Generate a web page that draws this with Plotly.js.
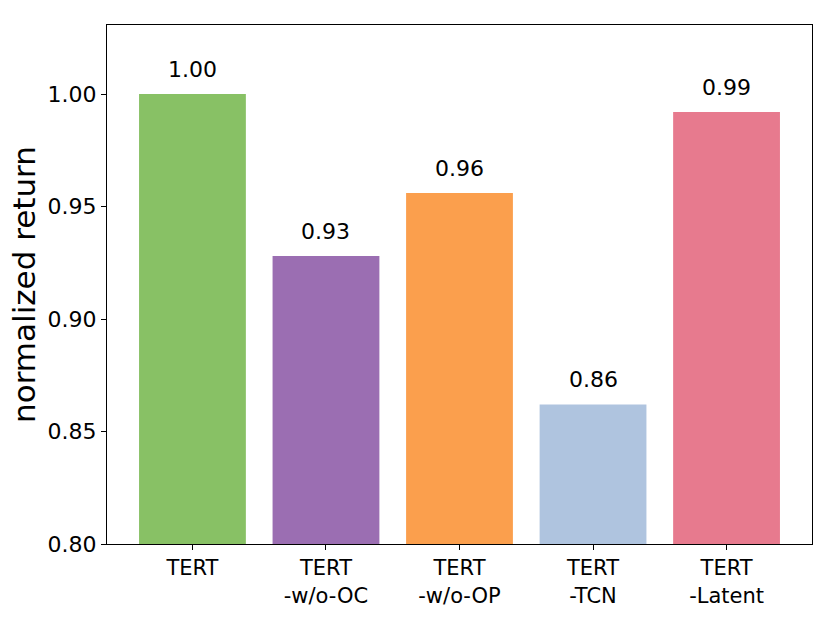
<!DOCTYPE html>
<html>
<head>
<meta charset="utf-8">
<script src="https://cdn.plot.ly/plotly-3.0.1.min.js"></script>
<style>html,body{margin:0;padding:0;background:#fff;}#chart{width:830px;height:623px;}</style>
</head>
<body>
<div id="chart"></div>
<script>
const categories = ["TERT", "TERT<br>-w/o-OC", "TERT<br>-w/o-OP", "TERT<br>-TCN", "TERT<br>-Latent"];
const values = [1.000, 0.928, 0.956, 0.862, 0.992];
const colors = ["#88c165", "#9b6eb2", "#fb9f4d", "#afc4df", "#e77a8e"];
const yTicks = [0.80, 0.85, 0.90, 0.95, 1.00];

const xs = categories.map((c, i) => i);

const trace = {
  type: "bar",
  x: xs,
  y: values.map(v => v - 0.8),
  base: 0.8,
  width: 0.8,
  marker: { color: colors, line: { width: 0 } },
  hoverinfo: "skip"
};

const annotations = values.map((v, i) => ({
  x: i, y: v, xref: "x", yref: "y",
  text: v.toFixed(2),
  showarrow: false,
  yanchor: "middle",
  yshift: 25,
  font: { family: "DejaVu Sans", size: 22, color: "#000" }
}));

const layout = {
  width: 830, height: 623,
  margin: { l: 107, r: 18, t: 25, b: 79 },
  paper_bgcolor: "#fff",
  plot_bgcolor: "#fff",
  showlegend: false,
  font: { family: "DejaVu Sans", size: 22, color: "#000" },
  xaxis: {
    range: [-0.64, 4.64],
    tickvals: xs,
    ticktext: categories,
    ticks: "outside", ticklen: 5, tickwidth: 1, tickcolor: "#000",
    showline: true, linecolor: "#000", linewidth: 1, mirror: true,
    showgrid: false, zeroline: false,
    tickfont: { family: "DejaVu Sans", size: 21, color: "#000" }
  },
  yaxis: {
    range: [0.8, 1.0307],
    tickvals: yTicks,
    ticktext: yTicks.map(t => t.toFixed(2)),
    ticks: "outside", ticklen: 5, tickwidth: 1, tickcolor: "#000",
    showline: true, linecolor: "#000", linewidth: 1, mirror: true,
    showgrid: false, zeroline: false,
    tickfont: { family: "DejaVu Sans", size: 22, color: "#000" },
    title: { text: "normalized return", font: { family: "DejaVu Sans", size: 31, color: "#000" }, standoff: 2 }
  },
  annotations: annotations
};

Plotly.newPlot("chart", [trace], layout, { displayModeBar: false, staticPlot: true });
</script>
</body>
</html>
